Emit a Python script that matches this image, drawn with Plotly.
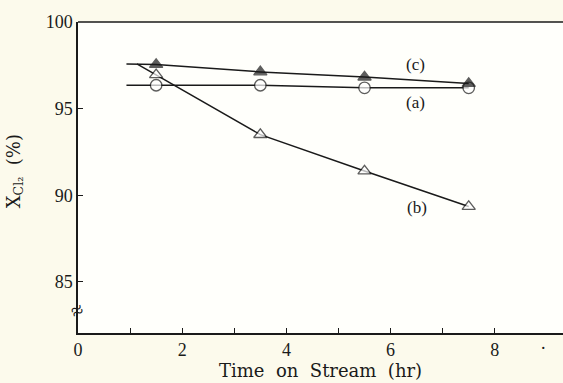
import plotly.graph_objects as go

# Time on stream (hr); the first entry of each series is the start of its line (no marker)
time_a = [0.93, 1.5, 3.5, 5.5, 7.5]
conv_a = [96.35, 96.35, 96.35, 96.2, 96.2]

time_b = [1.13, 1.5, 3.5, 5.5, 7.5]
conv_b = [97.58, 96.95, 93.5, 91.4, 89.35]

time_c = [0.93, 1.5, 3.5, 5.5, 7.5]
conv_c = [97.58, 97.55, 97.12, 96.82, 96.45]

x_ticks = [0, 2, 4, 6, 8]
y_ticks = [85, 90, 95, 100]

SERIF = "Liberation Serif"
WIDE_SERIF = "DejaVu Serif"
INK = "#1a1a1a"

fig = go.Figure()

def series(x, y, symbol, fill):
    sizes = [0] + [11.5] * (len(x) - 1)
    fig.add_trace(go.Scatter(
        x=x, y=y, mode="lines+markers",
        line=dict(color=INK, width=1.5),
        marker=dict(symbol=symbol, size=sizes, color=fill,
                    line=dict(color=INK, width=1.3)),
        showlegend=False, cliponaxis=False,
    ))

series(time_a, conv_a, "circle", "white")
series(time_b, conv_b, "triangle-up", "white")
series(time_c, conv_c, "triangle-up", INK)

labels = [("(c)", 6.47, 97.52), ("(a)", 6.47, 95.33), ("(b)", 6.5, 89.3)]
for txt, lx, ly in labels:
    fig.add_annotation(x=lx, y=ly, text=txt, showarrow=False,
                       font=dict(family=SERIF, size=17, color=INK))

# axis break mark on the y axis
fig.add_annotation(xref="paper", x=-0.002, y=83.35, text="≈", showarrow=False,
                   xanchor="center", yanchor="middle", textangle=-25,
                   font=dict(family=SERIF, size=22, color=INK))
fig.add_annotation(xref="paper", yref="paper", x=0.969, y=-0.071, text=".",
                   showarrow=False,
                   font=dict(family=SERIF, size=18, color=INK))

fig.add_annotation(xref="paper", yref="paper", x=0.5, y=-0.119,
                   xanchor="center", yanchor="middle", showarrow=False,
                   text="Time  on  Stream  (hr)",
                   font=dict(family=WIDE_SERIF, size=18, color=INK))
fig.add_annotation(xref="paper", yref="paper", x=-0.13, y=0.52,
                   xanchor="center", yanchor="middle",
                   textangle=-90, showarrow=False,
                   text="X<sub>Cl₂</sub>  (%)",
                   font=dict(family=WIDE_SERIF, size=18, color=INK))

fig.update_xaxes(range=[0, 9.31], tickvals=x_ticks, ticks="inside", ticklen=5,
                 tickwidth=1, tickcolor=INK, showline=True, linecolor=INK, linewidth=1.5,
                 showgrid=False, zeroline=False, mirror=False,
                 minor=dict(tickvals=[1, 3, 5, 7], ticks="inside", ticklen=5, tickcolor=INK),
                 tickfont=dict(family=SERIF, size=18, color=INK))
fig.update_yaxes(range=[82.05, 100], tickvals=y_ticks, ticks="inside", ticklen=5,
                 tickwidth=1, tickcolor=INK, showline=True, linecolor=INK, linewidth=1.5,
                 showgrid=False, zeroline=False,
                 tickfont=dict(family=SERIF, size=18, color=INK))

# top border of the frame
fig.add_shape(type="line", xref="paper", yref="paper", x0=0, x1=1, y0=1, y1=1,
              line=dict(color=INK, width=1.5))

fig.update_layout(
    width=563, height=383,
    margin=dict(l=78, r=0, t=22, b=50),
    paper_bgcolor="#fcfaec",
    plot_bgcolor="#fffffb",
)

fig.write_html("out.html")
